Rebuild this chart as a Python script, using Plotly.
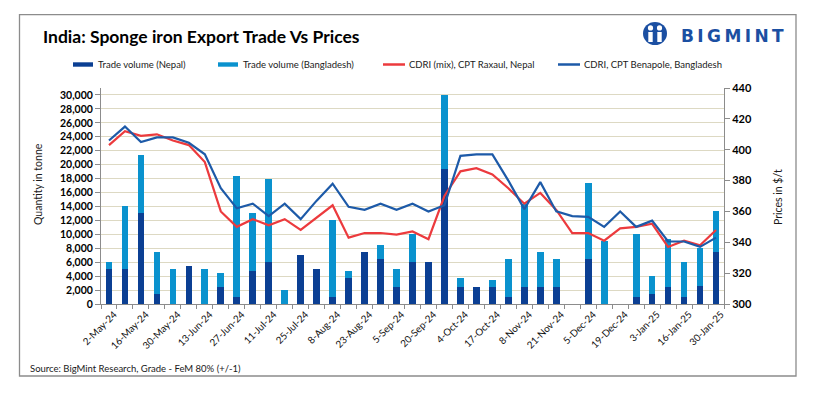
import plotly.graph_objects as go

categories = ["2-May-24","9-May-24","16-May-24","23-May-24","30-May-24","6-Jun-24","13-Jun-24",
              "20-Jun-24","27-Jun-24","4-Jul-24","11-Jul-24","18-Jul-24","25-Jul-24","1-Aug-24",
              "8-Aug-24","16-Aug-24","23-Aug-24","30-Aug-24","5-Sep-24","12-Sep-24","20-Sep-24",
              "27-Sep-24","4-Oct-24","10-Oct-24","17-Oct-24","25-Oct-24","8-Nov-24","14-Nov-24",
              "21-Nov-24","28-Nov-24","5-Dec-24","12-Dec-24","19-Dec-24","26-Dec-24","3-Jan-25",
              "9-Jan-25","16-Jan-25","23-Jan-25","30-Jan-25"]

nepal_volume = [5000,5000,13000,1400,0,5400,0,2400,1000,4800,6000,0,7000,5000,1000,3700,7400,6400,
                2400,6000,6000,19400,2400,2400,2400,1000,2400,2400,2400,0,6400,0,0,1000,1400,2400,
                1000,2600,7400]
bangladesh_volume = [1000,9000,8400,6000,5000,0,5000,2000,17400,8300,12000,2000,0,0,11000,1000,0,
                     2000,2600,4000,0,10600,1300,0,1000,5400,11900,5000,4000,0,11000,9000,0,9100,
                     2600,7000,5000,5400,6000]
raxaul_price = [403,412,409,410,406,403,392,360,350,355,351,355,348,356,364,343,346,346,345,347,342,
                370,386,388,384,375,365,372,361,346,346,341,349,350,352,337,341,338,348]
benapole_price = [406,415,405,408,408,404.5,397,375,362,365,357,365,355,367,378,363,361,365,361,365,
                  360,364,396,397,397,380,361.5,379,360,357,356.5,350,360,350,354,340.5,340.5,337,343]

series_names = ["Trade volume (Nepal)", "Trade volume (Bangladesh)",
                "CDRI (mix), CPT Raxaul, Nepal", "CDRI, CPT Benapole, Bangladesh"]
left_ticks = list(range(0, 30001, 2000))
right_ticks = list(range(300, 441, 20))

C_NEPAL = "#0B3F93"
C_BD = "#0A92CE"
C_RED = "#EC3A3D"
C_BLUE = "#1D5AA8"
FONT = "Lato"

x = list(range(len(categories)))

fig = go.Figure()
fig.add_trace(go.Bar(x=x, y=nepal_volume, name=series_names[0], marker_color=C_NEPAL,
                     width=0.42, marker_line_width=0))
fig.add_trace(go.Bar(x=x, y=bangladesh_volume, name=series_names[1], marker_color=C_BD,
                     width=0.42, marker_line_width=0))
fig.add_trace(go.Scatter(x=x, y=raxaul_price, name=series_names[2], mode="lines",
                         line=dict(color=C_RED, width=2.2), yaxis="y2"))
fig.add_trace(go.Scatter(x=x, y=benapole_price, name=series_names[3], mode="lines",
                         line=dict(color=C_BLUE, width=2.2), yaxis="y2"))

L, R, T, B = 101, 724, 88, 304
W, H = 820, 398
def px(v):
    return (v - L) / (R - L)
def py(v):
    return (B - v) / (B - T)

fig.update_layout(
    width=W, height=H,
    margin=dict(l=L, r=W - R, t=T, b=H - B, pad=0),
    paper_bgcolor="white", plot_bgcolor="white",
    barmode="stack", showlegend=False,
    font=dict(family=FONT, color="#000000"),
    xaxis=dict(range=[-0.5, len(categories) - 0.5],
               tickvals=x[::2], ticktext=categories[::2], tickangle=-45,
               tickfont=dict(size=9.8, family=FONT, color="#111"), ticklabelshift=5,
               showgrid=False, zeroline=False, showline=True, linecolor="#8C8C8C", linewidth=1,
               ticks="", minor=dict(ticks="outside", tick0=-0.5, dtick=1, ticklen=4,
                                    tickcolor="#8C8C8C", showgrid=False)),
    yaxis=dict(range=[0, 31000], tickvals=left_ticks, tickformat=",",
               tickfont=dict(size=10.5, family=FONT, color="#000", weight="bold"),
               showgrid=True, gridcolor="#DDD9C3", gridwidth=1, zeroline=False,
               showline=True, linecolor="#8C8C8C", linewidth=1,
               ticks="outside", ticklen=5, tickcolor="#8C8C8C"),
    yaxis2=dict(range=[300, 440], tickvals=right_ticks, overlaying="y", side="right",
                tickfont=dict(size=11, family=FONT, color="#000", weight="bold"),
                showgrid=False, zeroline=False, showline=True, linecolor="#8C8C8C", linewidth=1,
                ticks="outside", ticklen=5, tickcolor="#8C8C8C"),
)

shapes = []
annotations = []
# outer border
shapes.append(dict(type="rect", xref="paper", yref="paper", x0=px(19.5), x1=px(796),
                   y0=py(376), y1=py(14.7), line=dict(color="#8C8C8C", width=1.3),
                   fillcolor="rgba(0,0,0,0)", layer="below"))
# title
annotations.append(dict(text="<b>India: Sponge iron Export Trade Vs Prices</b>", xref="paper", yref="paper",
                        x=px(41), y=py(36), xanchor="left", yanchor="middle", showarrow=False,
                        font=dict(size=17.5, family=FONT, color="#000")))
# logo
shapes.append(dict(type="circle", xref="paper", yref="paper", x0=px(643), x1=px(667),
                   y0=py(45), y1=py(22), fillcolor="#1B4FA2", line=dict(width=0)))
for cx in (650.5, 659.5):
    shapes.append(dict(type="circle", xref="paper", yref="paper", x0=px(cx - 2.6), x1=px(cx + 2.6),
                       y0=py(30.5), y1=py(25.3), fillcolor="white", line=dict(width=0)))
    shapes.append(dict(type="rect", xref="paper", yref="paper", x0=px(cx - 2.2), x1=px(cx + 2.2),
                       y0=py(42), y1=py(32), fillcolor="white", line=dict(width=0)))
shapes.append(dict(type="rect", xref="paper", yref="paper", x0=px(654), x1=px(656),
                   y0=py(40), y1=py(29), fillcolor="#1B4FA2", line=dict(width=0)))
annotations.append(dict(text="<b>B\u2009I\u2009G\u2009M\u2009I\u2009N\u2009T</b>", xref="paper", yref="paper",
                        x=px(679), y=py(36), xanchor="left", yanchor="middle", showarrow=False,
                        font=dict(size=17, family="DejaVu Sans", color="#1B4FA2")))
# legend
leg_y = 64.5
items = [("bar", C_NEPAL, 73, 93, 95.5, series_names[0]),
         ("bar", C_BD, 218, 238, 240.5, series_names[1]),
         ("line", C_RED, 383, 405, 406.5, series_names[2]),
         ("line", C_BLUE, 558, 580, 581.5, series_names[3])]
for kind, col, a, b, tx, name in items:
    if kind == "bar":
        shapes.append(dict(type="rect", xref="paper", yref="paper", x0=px(a), x1=px(b),
                           y0=py(leg_y + 2.2), y1=py(leg_y - 2.2), fillcolor=col, line=dict(width=0)))
    else:
        shapes.append(dict(type="line", xref="paper", yref="paper", x0=px(a), x1=px(b),
                           y0=py(leg_y), y1=py(leg_y), line=dict(color=col, width=2.5)))
    annotations.append(dict(text=name, xref="paper", yref="paper", x=px(tx), y=py(leg_y),
                            xanchor="left", yanchor="middle", showarrow=False,
                            font=dict(size=9.5, family=FONT, color="#1a1a1a")))
# axis titles
annotations.append(dict(text="Quantity in tonne", xref="paper", yref="paper", x=px(38), y=py(184),
                        xanchor="center", yanchor="middle", textangle=-90, showarrow=False,
                        font=dict(size=10.5, family=FONT, color="#1a1a1a")))
annotations.append(dict(text="Prices in $/t", xref="paper", yref="paper", x=px(778), y=py(197),
                        xanchor="center", yanchor="middle", textangle=-90, showarrow=False,
                        font=dict(size=10.5, family=FONT, color="#1a1a1a")))
# source
annotations.append(dict(text="Source: BigMint Research, Grade - FeM 80% (+/-1)", xref="paper", yref="paper",
                        x=px(28), y=py(368.5), xanchor="left", yanchor="middle", showarrow=False,
                        font=dict(size=9.5, family=FONT, color="#1a1a1a")))

fig.update_layout(shapes=shapes, annotations=annotations)
fig.write_html("out.html", config={"displayModeBar": False},
               post_script="document.body.style.margin='0px';document.body.style.padding='0px';")
